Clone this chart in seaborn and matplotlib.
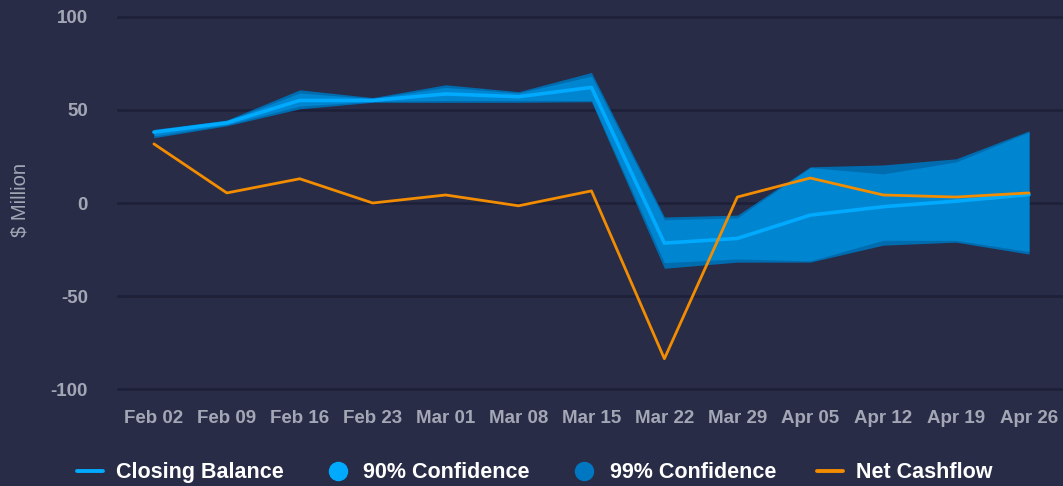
import numpy as np
import pandas as pd
import matplotlib
matplotlib.use("Agg")
import matplotlib.pyplot as plt
import seaborn as sns
from matplotlib.lines import Line2D


# DADOS

weeks = ["Feb 02", "Feb 09", "Feb 16", "Feb 23", "Mar 01", "Mar 08", "Mar 15",
         "Mar 22", "Mar 29", "Apr 05", "Apr 12", "Apr 19", "Apr 26"]

closing_balance = [38, 43, 55, 55, 58.5, 57, 62, -21.5, -19, -6.5, -2, 1, 4.5]
net_cashflow = [31.7, 5.4, 13, 0, 4.3, -1.5, 6.5, -83.5, 3.2, 13.4, 4.3, 3.2, 5.4]

ci90_upper = [39, 44, 59, 56, 62, 59, 68, -9, -8, 19, 15.6, 22, 38]
ci90_lower = [36, 42, 52, 54.5, 55, 55, 55, -32, -30, -31, -20, -20, -26]

ci99_upper = [39.5, 44.5, 60.7, 56.5, 63.4, 59.7, 70, -7.5, -6.5, 19.4, 20.4, 23.7, 38.7]
ci99_lower = [35, 41.4, 50.5, 54, 54, 54, 54.3, -35, -31.7, -31.7, -22.6, -21, -27.4]

df = pd.DataFrame({
    "pos": np.arange(len(weeks)),
    "week": weeks,
    "closing": closing_balance,
    "net": net_cashflow,
})


# ESTILO

BG = "#282c47"
GRID = "#1d2036"
TICK = "#a3a7b5"
BLUE_LINE = "#00aaff"
BLUE_90 = "#0085d0"
BLUE_99 = "#006cb0"
ORANGE = "#f28c00"

sns.set_theme(style="dark")
plt.rcParams["font.family"] = ["Liberation Sans", "DejaVu Sans"]
plt.rcParams["axes.unicode_minus"] = False

fig = plt.figure(figsize=(10.63, 4.86), dpi=100, facecolor=BG)
ax = fig.add_axes([0.110, 0.1794, 0.890, 0.8173])
ax.set_facecolor(BG)


# FAIXAS DE CONFIANÇA

ax.fill_between(df["pos"], ci99_lower, ci99_upper,
                color=BLUE_99, linewidth=0, zorder=2)
ax.fill_between(df["pos"], ci90_lower, ci90_upper,
                color=BLUE_90, linewidth=0, zorder=3)


# LINHAS

sns.lineplot(data=df, x="pos", y="closing", ax=ax,
             color=BLUE_LINE, linewidth=2.6, zorder=4)
sns.lineplot(data=df, x="pos", y="net", ax=ax,
             color=ORANGE, linewidth=2.0, zorder=5)


# EIXOS

ax.set_xlim(-0.507, 12.466)
ax.set_ylim(-105, 108)
ax.set_yticks([-100, -50, 0, 50, 100])
ax.set_xticks(df["pos"])
ax.set_xticklabels(weeks)

ax.grid(False)
ax.yaxis.grid(True, color=GRID, linewidth=1.8, zorder=1)
ax.set_axisbelow(True)

for s in ax.spines.values():
    s.set_visible(False)

ax.tick_params(axis="x", length=0, pad=8, labelsize=13.5, labelcolor=TICK)
ax.tick_params(axis="y", length=0, pad=21, labelsize=13.5, labelcolor=TICK)
for lab in ax.get_xticklabels() + ax.get_yticklabels():
    lab.set_fontweight("bold")

ax.set_xlabel("")
ax.set_ylabel("$ Million", color=TICK, fontsize=14.5)
ax.yaxis.set_label_coords(-0.092, 0.5)


# LEGENDA

handles = [
    Line2D([0], [0], color=BLUE_LINE, linewidth=2.8),
    Line2D([0], [0], marker="o", linestyle="", markersize=13,
           markerfacecolor=BLUE_LINE, markeredgecolor=BLUE_LINE),
    Line2D([0], [0], marker="o", linestyle="", markersize=13,
           markerfacecolor="#0077c0", markeredgecolor="#0077c0"),
    Line2D([0], [0], color=ORANGE, linewidth=2.8),
]
labels = ["Closing Balance", "90% Confidence", "99% Confidence", "Net Cashflow"]

fig.legend(
    handles,
    labels,
    loc="center",
    bbox_to_anchor=(0.503, 0.027),
    ncol=4,
    frameon=False,
    handlelength=1.2,
    handletextpad=0.6,
    columnspacing=1.9,
    prop={"weight": "bold", "size": 15.5},
    labelcolor="white",
)

fig.savefig("out.png", dpi=100, facecolor=BG)
